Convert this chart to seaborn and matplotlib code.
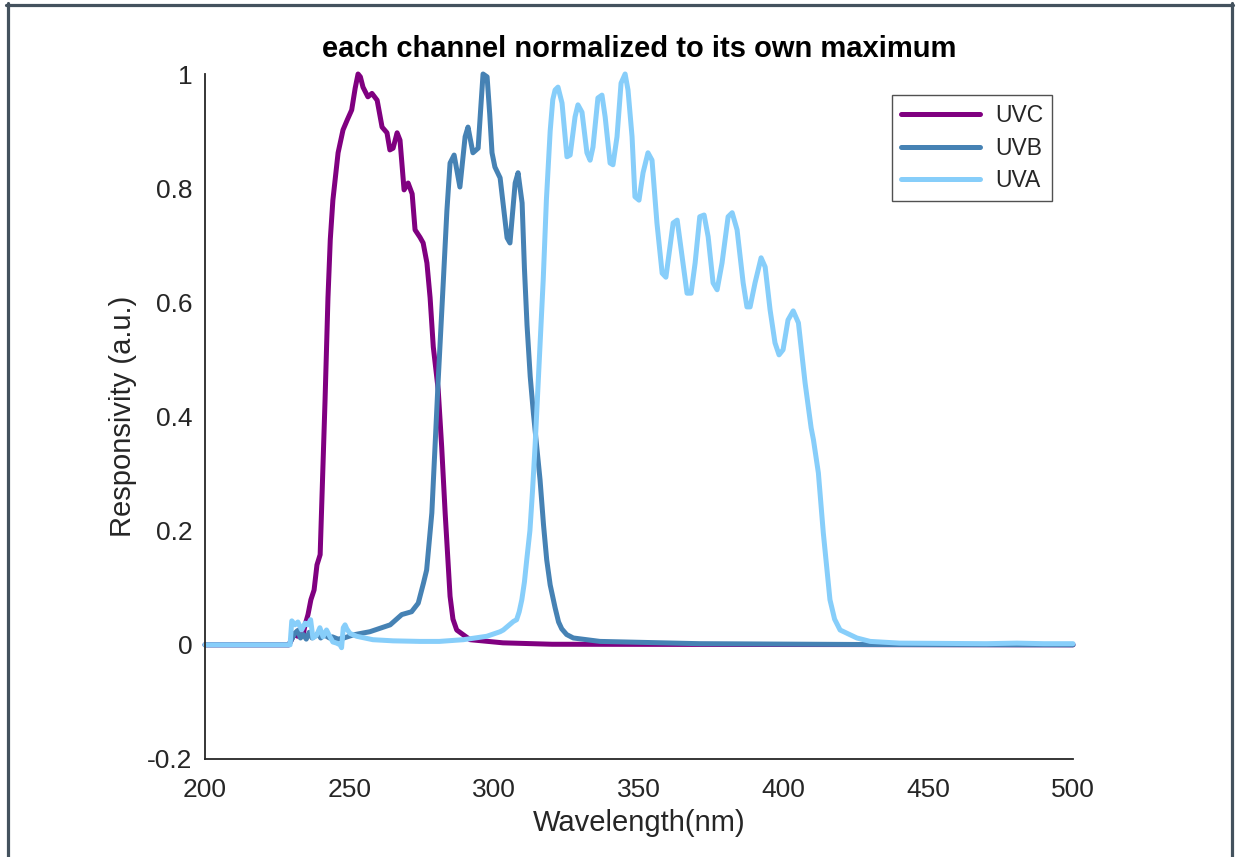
import numpy as np
import pandas as pd
import matplotlib
matplotlib.use("Agg")
import matplotlib.pyplot as plt
from matplotlib.lines import Line2D
import seaborn as sns

# ---------------- data ----------------
uvc_wl = [200, 229, 230, 231, 232, 233, 234, 234.6, 235.6, 236.6, 237.7, 238.7, 239.8, 240.4,
          241.5, 242.5, 243.3, 244.2, 246, 247.7, 249.2, 250.7, 251.9, 252.9, 253.7, 254.6,
          256.3, 257.7, 259.5, 261.2, 262.9, 263.9, 265, 266.4, 267.4, 268.8, 270.2, 271.6,
          272.6, 274.3, 275.4, 276.7, 277.8, 278.9, 280.6, 281.8, 283, 284.7, 285.7, 287,
          291.6, 303, 320, 500]
uvc_resp = [0, 0, 0.01, 0.02, 0.015, 0.03, 0.02, 0.035, 0.053, 0.079, 0.096, 0.14, 0.158, 0.254,
            0.43, 0.608, 0.71, 0.779, 0.862, 0.902, 0.92, 0.937, 0.975, 1.0, 0.995, 0.977,
            0.96, 0.966, 0.954, 0.907, 0.897, 0.867, 0.87, 0.897, 0.884, 0.797, 0.809, 0.79,
            0.727, 0.714, 0.704, 0.669, 0.608, 0.522, 0.447, 0.347, 0.231, 0.085, 0.045, 0.026,
            0.009, 0.0035, 0.001, 0]

uvb_wl = [200, 229, 230, 231, 232, 233, 234, 235, 236, 237, 238, 239, 240, 241, 242, 243, 244,
          246, 248, 251.3, 257, 264, 268, 271.4, 273.7, 275.5, 276.6, 278.4, 279.5, 280.6,
          282.4, 283.6, 284.7, 286.1, 288.1, 289.9, 290.9, 292.6, 294.4, 295.3, 296.1, 297.5,
          298.4, 299.2, 300.2, 302, 304.4, 305.4, 307.2, 308.2, 309.6, 310.4, 311.3, 312.4,
          313.5, 315.8, 317, 318.1, 319.3, 321, 322.2, 323.3, 325, 327.3, 336.5, 371, 430, 500]
uvb_resp = [0, 0, 0.01, 0.02, 0.025, 0.012, 0.018, 0.01, 0.022, 0.012, 0.015, 0.02, 0.012, 0.018,
            0.015, 0.012, 0.014, 0.01, 0.012, 0.0175, 0.023, 0.035, 0.053, 0.058, 0.073, 0.108,
            0.131, 0.231, 0.347, 0.464, 0.64, 0.76, 0.844, 0.858, 0.802, 0.89, 0.907, 0.862,
            0.87, 0.94, 1.0, 0.995, 0.93, 0.862, 0.837, 0.818, 0.713, 0.704, 0.809, 0.827,
            0.774, 0.66, 0.56, 0.47, 0.406, 0.289, 0.21, 0.149, 0.105, 0.065, 0.04, 0.028,
            0.018, 0.012, 0.006, 0.002, 0.0005, 0]

uva_wl = [200, 229.4, 230, 231.1, 232.1, 233.4, 234.6, 235.6, 236.5, 237.3, 238.6, 239.7, 240.8,
          242, 243.2, 244.2, 245.5, 246.7, 247.2, 247.8, 248.4, 249, 250.1, 252.4, 258, 265,
          274.3, 281, 289.3, 297.4, 302, 303.1, 306.6, 307.7, 308.6, 309.5, 310.4, 311.2, 312.3,
          313.2, 314.1, 315.2, 316.9, 318, 319.3, 320.2, 321, 322, 323.4, 325.1, 326.2, 327.9,
          328.9, 330.3, 332, 333.1, 334.1, 335.8, 337.2, 338.3, 340, 341, 342.4, 343.8, 345.2,
          346.2, 347.6, 348.6, 350, 351.4, 353.1, 354.5, 356.2, 358, 359.3, 360.7, 361.8, 363.2,
          364.9, 366.6, 368, 369.4, 371, 372.5, 373.9, 375.6, 377, 378.7, 380.8, 382.2, 383.9,
          386, 387.3, 388.4, 390.1, 392.2, 393.6, 395.3, 397, 398.4, 399.8, 401.5, 403.3, 405.1,
          407.4, 409.5, 410.3, 412, 413.7, 416, 417.6, 419.5, 425.3, 429.9, 440, 470, 480.6,
          490, 500]
uva_resp = [0, 0, 0.042, 0.035, 0.04, 0.026, 0.038, 0.035, 0.044, 0.012, 0.017, 0.03, 0.014,
            0.026, 0.014, 0.005, 0.003, 0.0, -0.005, 0.03, 0.035, 0.028, 0.02, 0.015, 0.009,
            0.007, 0.006, 0.006, 0.009, 0.015, 0.023, 0.026, 0.041, 0.044, 0.058, 0.079, 0.11,
            0.149, 0.2, 0.27, 0.35, 0.464, 0.64, 0.78, 0.9, 0.955, 0.972, 0.977, 0.949, 0.855,
            0.858, 0.925, 0.946, 0.933, 0.862, 0.849, 0.872, 0.958, 0.963, 0.925, 0.844, 0.841,
            0.89, 0.984, 1.0, 0.972, 0.89, 0.785, 0.779, 0.827, 0.862, 0.849, 0.739, 0.651,
            0.644, 0.697, 0.739, 0.744, 0.68, 0.616, 0.616, 0.669, 0.75, 0.753, 0.715, 0.634,
            0.622, 0.669, 0.75, 0.757, 0.727, 0.634, 0.592, 0.592, 0.634, 0.678, 0.662, 0.587,
            0.529, 0.508, 0.517, 0.569, 0.585, 0.564, 0.459, 0.38, 0.359, 0.301, 0.196, 0.079,
            0.045, 0.026, 0.012, 0.006, 0.003, 0.002, 0.003, 0.002, 0.002]

channels = ["UVC", "UVB", "UVA"]
colors = ["#800080", "#4682B4", "#87CEFA"]

assert len(uvc_wl) == len(uvc_resp)
assert len(uvb_wl) == len(uvb_resp)
assert len(uva_wl) == len(uva_resp)

df = pd.concat([
    pd.DataFrame({"wl": uvc_wl, "resp": uvc_resp, "ch": "UVC"}),
    pd.DataFrame({"wl": uvb_wl, "resp": uvb_resp, "ch": "UVB"}),
    pd.DataFrame({"wl": uva_wl, "resp": uva_resp, "ch": "UVA"}),
], ignore_index=True)

# ---------------- style ----------------
sns.set_theme(style="white")
plt.rcParams["font.family"] = ["Liberation Sans", "DejaVu Sans"]
dark = "#262626"

fig = plt.figure(figsize=(12.38, 8.57), dpi=100)
ax = fig.add_axes([205 / 1238, 1 - 759 / 857, (1073 - 205) / 1238, (759 - 74) / 857])

sns.lineplot(data=df, x="wl", y="resp", hue="ch", hue_order=channels,
             palette=colors, linewidth=3.6, sort=False, estimator=None,
             legend=False, ax=ax)
for ln in ax.get_lines():
    ln.set_solid_joinstyle("round")
    ln.set_solid_capstyle("round")
    ln.set_clip_on(False)

ax.set_xlim(200, 500)
ax.set_ylim(-0.2, 1.0)
ax.set_xticks([200, 250, 300, 350, 400, 450, 500])
ax.set_yticks([-0.2, 0, 0.2, 0.4, 0.6, 0.8, 1.0])
ax.set_yticklabels(["-0.2", "0", "0.2", "0.4", "0.6", "0.8", "1"])

for s in ["top", "right"]:
    ax.spines[s].set_visible(False)
for s in ["left", "bottom"]:
    ax.spines[s].set_color(dark)
    ax.spines[s].set_linewidth(1.3)

ax.tick_params(axis="both", direction="in", length=7.5, width=1.3, color=dark,
               labelsize=19, labelcolor=dark)
ax.tick_params(axis="x", pad=14)
ax.tick_params(axis="y", pad=9)

ax.set_xlabel("Wavelength(nm)", fontsize=21, color=dark, labelpad=5)
ax.set_ylabel("Responsivity (a.u.)", fontsize=21, color=dark, labelpad=7)
ax.set_title("each channel normalized to its own maximum", fontsize=21,
             fontweight="bold", color="black", pad=12)

handles = [Line2D([0], [0], color=c, lw=3.6) for c in colors]
leg = ax.legend(handles, channels, loc="upper right", bbox_to_anchor=(0.9758, 0.969),
                borderaxespad=0, fontsize=16.5, handlelength=3.45, handletextpad=0.65,
                labelspacing=0.42, borderpad=0.38, frameon=True, fancybox=False)
leg.get_frame().set_edgecolor(dark)
leg.get_frame().set_linewidth(1.0)

# figure frame (dark slate border)
border = "#44525E"
fig.add_artist(Line2D([7.5 / 1238, 7.5 / 1238], [0, 1 - 3 / 857], transform=fig.transFigure,
                      color=border, lw=2.3))
fig.add_artist(Line2D([6 / 1238, 1233 / 1238], [1 - 4.5 / 857, 1 - 4.5 / 857],
                      transform=fig.transFigure, color=border, lw=2.3))
fig.add_artist(Line2D([1231.5 / 1238, 1231.5 / 1238], [0, 1 - 3 / 857],
                      transform=fig.transFigure, color=border, lw=2.3))

fig.savefig("out.png", dpi=100, facecolor="white")
